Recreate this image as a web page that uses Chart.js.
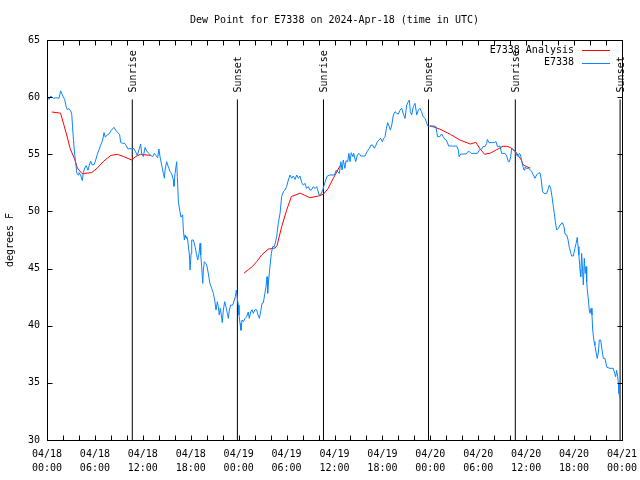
<!DOCTYPE html>
<html><head><meta charset="utf-8">
<script src="https://cdn.jsdelivr.net/npm/chart.js@4.4.1/dist/chart.umd.min.js"></script>
<style>html,body{margin:0;padding:0;background:#fff;}</style>
</head><body>
<canvas id="c" width="640" height="480"></canvas>
<script>
// ---------------- data ----------------
const chartTitle = 'Dew Point for E7338 on 2024-Apr-18 (time in UTC)';
const yAxisTitle = 'degrees F';
const seriesNames = ['E7338 Analysis', 'E7338'];

// x tick labels every 6 hours (hours since 04/18 00:00 UTC)
const tickDates = ['04/18','04/18','04/18','04/18','04/19','04/19','04/19','04/19','04/20','04/20','04/20','04/20','04/21'];
const tickTimes = ['00:00','06:00','12:00','18:00','00:00','06:00','12:00','18:00','00:00','06:00','12:00','18:00','00:00'];

// sunrise / sunset markers
const sunEventHours  = [10.68, 23.84, 34.62, 47.77, 58.64, 71.76];
const sunEventLabels = ['Sunrise','Sunset','Sunrise','Sunset','Sunrise','Sunset'];
const sunLineBottom = 30;
const sunLineTop = 59.8;

// analysis (red), null = gap
const redHours = [0.6,1.7,2.1,2.5,2.9,3.5,3.8,4.4,5.6,6.3,7.1,8.0,8.8,9.6,10.6,11.1,11.7,13.0,
  18,
  24.67,25.2,25.75,26.25,26.9,27.7,28.55,28.8,29.4,30.0,30.6,31.7,32.3,32.9,34.0,34.6,35.2,35.85,36.7,
  42,
  47.96,49.2,50.5,51.7,53.0,53.7,54.2,54.8,55.5,56.3,57.1,57.6,58.0,58.6,59.0,59.4,59.6,60.1,60.5];
const redValues = [58.7,58.6,57.6,56.6,55.5,54.5,53.8,53.3,53.4,53.8,54.4,54.9,55.0,54.8,54.5,54.8,55.0,54.9,
  null,
  44.6,44.9,45.2,45.6,46.2,46.7,46.8,47.0,48.7,50.1,51.3,51.6,51.4,51.2,51.35,51.5,52.0,52.9,54.0,
  null,
  57.5,57.2,56.75,56.25,55.9,56.05,55.5,55.0,55.1,55.4,55.7,55.7,55.6,55.3,54.9,54.5,54.1,53.9,53.8];

// station observations (blue)
const blueHours = [
 0.0,0.25,0.46,0.79,1.21,1.5,1.71,1.92,2.21,2.38,2.55,2.75,2.96,3.1,3.2,3.32,3.45,3.6,3.75,3.9,
 4.0,4.2,4.42,4.55,4.72,4.9,5.13,5.3,5.47,5.68,5.9,6.1,6.3,6.51,6.72,6.97,7.14,7.3,7.55,7.8,
 8.05,8.39,8.64,8.89,9.1,9.22,9.47,9.72,9.93,10.14,10.39,10.64,10.89,11.1,11.31,11.52,11.73,11.85,12.06,12.27,
 12.48,12.73,12.98,13.23,13.44,13.65,13.86,14.02,
 14.15,14.36,14.57,14.7,14.78,14.98,15.2,15.4,15.61,15.82,15.9,16.03,16.24,16.32,16.45,16.65,16.78,16.99,17.07,17.2,
 17.28,17.41,17.49,17.62,17.83,17.91,18.04,18.12,18.33,18.54,18.74,18.87,19.04,19.17,19.25,19.37,19.5,19.58,19.7,19.87,
 20.0,20.2,20.4,20.62,20.83,21.0,21.16,21.33,21.45,21.57,21.7,21.83,21.95,22.08,22.25,22.41,22.58,22.71,22.83,23.0,
 23.25,23.46,23.58,23.71,23.83,23.96,24.04,24.17,24.29,24.42,24.59,24.8,25.0,25.2,25.33,25.5,25.67,25.83,26.04,26.25,
 26.42,26.59,26.75,26.92,27.09,27.25,27.42,27.55,27.63,27.75,27.92,28.09,28.26,28.47,
 28.76,28.96,29.18,29.38,29.6,29.8,30.0,30.22,30.43,30.64,30.85,31.06,31.27,31.47,31.68,31.9,32.1,32.3,32.5,32.72,
 32.93,33.1,33.35,33.56,33.77,33.9,34.07,34.32,34.53,34.7,34.9,35.1,35.4,35.8,36.0,36.2,36.4,36.6,36.8,36.95,
 37.1,37.3,37.44,37.65,37.8,37.94,38.1,38.3,38.4,38.65,38.86,39.07,39.3,39.6,39.82,40.07,40.37,40.57,40.78,40.99,
 41.2,41.36,41.57,41.78,41.99,42.16,42.33,42.5,42.66,42.83,
 43.0,43.17,43.37,43.58,43.8,44.0,44.2,44.42,44.6,44.83,45.04,45.25,45.37,45.5,45.66,45.87,46.08,46.3,46.5,46.7,
 46.9,47.1,47.33,47.5,47.67,47.88,48.1,48.5,48.7,48.9,49.2,49.4,49.6,49.84,50.0,50.3,50.5,50.9,51.3,51.5,
 51.6,51.8,52.1,52.5,52.7,52.9,53.1,53.4,53.9,54.2,54.4,54.6,54.85,55.06,55.14,55.35,55.7,56.0,56.23,56.4,
 56.72,56.93,57.35,57.56,57.77,57.9,58.06,58.19,58.4,58.6,58.8,59.0,59.15,59.3,59.45,59.6,59.73,59.85,60.06,60.27,
 60.48,60.7,60.9,61.1,61.3,61.5,61.73,61.86,62.06,62.24,62.57,62.78,62.9,63.07,63.24,63.4,63.53,63.65,63.82,64.03,
 64.25,64.53,64.74,64.87,65.08,65.25,65.38,65.6,65.7,65.9,66.1,66.25,66.4,66.5,66.6,66.75,66.83,66.95,67.07,67.16,
 67.28,67.4,67.5,67.58,67.66,67.79,67.9,68.0,68.12,68.24,68.33,68.5,68.6,68.75,68.9,69.04,69.16,69.33,69.5,69.66,
 69.87,70.1,70.5,70.9,71.08,71.2,71.33,71.46,71.54,71.62,71.75];
const blueValues = [
 60.0,59.8,60.1,59.9,59.95,59.9,60.55,60.2,59.8,59.2,58.9,59.0,58.8,58.5,57.4,56.2,55.1,54.2,53.3,53.2,
 53.4,53.2,52.7,53.4,53.8,54.0,53.6,54.06,54.4,54.06,54.1,54.5,55.0,55.4,55.8,56.25,56.9,56.5,56.7,56.8,
 57.1,57.36,57.06,56.9,56.7,56.04,55.96,55.96,55.75,55.46,55.5,55.46,55.5,55.2,54.9,55.4,55.9,55.08,54.8,55.6,
 55.3,55.08,54.9,54.8,55.08,54.9,54.7,55.46,
 54.79,54.06,53.33,52.9,53.6,54.35,53.9,53.5,53.3,52.75,52.2,53.3,54.35,53.04,50.85,49.98,49.5,49.7,48.37,47.5,
 47.94,47.65,47.8,47.5,46.19,44.87,46.33,47.5,47.5,46.92,46.19,45.75,46.33,47.21,46.19,45.17,43.7,44.87,45.6,45.46,
 45.31,44.58,43.7,43.27,42.83,42.25,41.37,42.1,41.66,40.94,41.52,40.94,40.27,41.37,42.1,41.66,41.08,40.64,41.37,41.8,
 41.8,42.25,42.54,43.12,42.4,41.8,40.94,40.2,39.6,40.5,40.35,40.64,40.79,41.2,40.64,41.2,41.4,41.08,41.4,41.4,
 40.94,40.64,41.2,41.96,42.0,42.7,43.4,44.29,42.83,44.0,45.17,46.33,46.92,46.92,
 47.79,48.96,49.83,51.29,51.73,51.87,52.17,52.75,53.19,52.9,53.1,52.8,53.19,52.9,53.1,52.51,52.3,52.46,52.02,52.17,
 51.87,51.87,52.17,52.0,52.17,51.87,51.44,51.52,51.87,52.3,52.75,53.1,53.19,53.19,53.19,53.6,53.5,53.33,54.35,53.62,
 54.5,53.77,54.44,54.35,55.08,54.35,55.14,54.79,55.08,54.35,54.94,55.08,54.85,54.85,54.85,55.23,55.52,55.81,55.81,55.52,
 55.81,56.1,56.25,56.4,56.1,56.4,56.54,57.27,57.77,57.47,
 57.12,57.56,58.44,58.73,58.58,58.52,58.87,59.02,58.58,58.14,59.31,59.6,59.75,58.73,58.44,59.17,59.46,58.44,58.87,59.02,
 58.73,58.29,58.14,57.85,57.47,57.47,57.47,57.47,57.42,56.54,56.54,56.77,56.54,56.3,56.25,55.72,55.72,55.72,55.72,55.37,
 54.79,55.02,55.02,55.02,55.23,55.23,55.08,55.08,55.08,55.43,55.43,55.67,55.67,55.96,56.3,56.02,56.02,56.02,56.1,55.67,
 55.72,55.08,55.08,54.85,54.35,54.35,54.79,55.52,55.37,55.23,54.94,54.79,55.08,54.94,54.35,53.92,53.62,53.86,53.77,53.77,
 53.68,53.48,53.19,52.9,53.19,53.33,53.39,52.9,51.73,51.58,51.58,52.02,52.31,52.02,51.29,50.42,49.83,49.1,48.37,48.52,
 48.81,49.02,48.66,48.02,47.94,47.5,46.92,46.33,46.1,46.1,46.77,47.2,47.73,46.92,46.19,44.87,44.29,46.33,44.73,43.56,
 45.9,44.58,45.17,43.85,43.12,42.25,41.37,41.08,41.52,40.94,39.62,38.6,38.3,37.7,37.14,37.7,38.75,38.75,37.87,37.14,
 37.14,36.36,36.27,36.27,35.83,35.54,36.1,35.54,34.96,34.08,33.7];

// ---------------- chart ----------------
const FONT = "'DejaVu Sans Mono', 'Liberation Mono', monospace";
Chart.defaults.font.family = FONT;
Chart.defaults.font.size = 10;
Chart.defaults.color = '#000';

const RED = '#ff0000';
const BLUE = '#0a84ff';

const datasets = [
  { label: seriesNames[0], data: redHours.map((h,i)=>({x:h, y:redValues[i]})),
    borderColor: RED, borderWidth: 1, pointRadius: 0, tension: 0, spanGaps: false, order: 1 },
  { label: seriesNames[1], data: blueHours.map((h,i)=>({x:h, y:blueValues[i]})),
    borderColor: BLUE, borderWidth: 1, pointRadius: 0, tension: 0, order: 0 }
];
sunEventHours.forEach((h, i) => {
  datasets.push({ label: sunEventLabels[i], data: [{x:h, y:sunLineBottom}, {x:h, y:sunLineTop}],
    borderColor: '#000', borderWidth: 1, pointRadius: 0, order: 2 });
});

const gnuplotDecor = {
  id: 'gnuplotDecor',
  afterDatasetsDraw(chart) {
    const {ctx, chartArea: a, scales: {x, y}} = chart;
    ctx.save();
    ctx.strokeStyle = '#000';
    ctx.lineWidth = 1;
    const L = Math.round(a.left) + 0.5, R = Math.round(a.right) + 0.5;
    const T = Math.round(a.top) + 0.5, B = Math.round(a.bottom) + 0.5;
    ctx.beginPath();
    // inward ticks
    x.ticks.forEach(t => {
      const px = Math.round(x.getPixelForValue(t.value)) + 0.5;
      ctx.moveTo(px, B); ctx.lineTo(px, B - 5);
      ctx.moveTo(px, T); ctx.lineTo(px, T + 5);
    });
    y.ticks.forEach(t => {
      const py = Math.round(y.getPixelForValue(t.value)) + 0.5;
      ctx.moveTo(L, py); ctx.lineTo(L + 5, py);
      ctx.moveTo(R, py); ctx.lineTo(R - 5, py);
    });
    ctx.stroke();
    ctx.strokeRect(L, T, R - L, B - T);

    // sunrise / sunset labels
    ctx.fillStyle = '#000';
    ctx.font = '10px ' + FONT;
    ctx.textAlign = 'left';
    ctx.textBaseline = 'middle';
    sunEventHours.forEach((h, i) => {
      const px = x.getPixelForValue(h) + 1;
      const py = y.getPixelForValue(sunLineTop) - 7;
      ctx.save();
      ctx.translate(px, py);
      ctx.rotate(-Math.PI / 2);
      ctx.fillText(sunEventLabels[i], 0, 0);
      ctx.restore();
    });

    // key (inside, top right)
    ctx.textAlign = 'right';
    [0, 1].forEach(i => {
      const ds = chart.data.datasets[i];
      const ky = a.top + 10 + i * 12.5;
      ctx.fillText(ds.label, a.right - 48, ky);
      ctx.strokeStyle = ds.borderColor;
      ctx.beginPath();
      ctx.moveTo(a.right - 40, Math.round(ky) + 0.5);
      ctx.lineTo(a.right - 12, Math.round(ky) + 0.5);
      ctx.stroke();
    });
    ctx.restore();
  }
};

new Chart(document.getElementById('c'), {
  type: 'line',
  data: { datasets },
  options: {
    responsive: false,
    animation: false,
    devicePixelRatio: 1,
    events: [],
    layout: { padding: { left: 0, right: 18, top: 0, bottom: 0 } },
    plugins: {
      legend: { display: false },
      tooltip: { enabled: false },
      title: {
        display: true, text: chartTitle, fullSize: false,
        font: { size: 10, weight: 'normal', family: FONT },
        padding: { top: 14, bottom: 14 }
      }
    },
    scales: {
      x: {
        type: 'linear', min: 0, max: 72,
        grid: { display: false, drawTicks: false },
        border: { display: false },
        afterFit(s) { s.height = 40; s.paddingLeft = 0; s.paddingRight = 0; },
        ticks: {
          stepSize: 2, autoSkip: false, maxRotation: 0, minRotation: 0, maxTicksLimit: 100,
          padding: 7,
          font: { size: 10, lineHeight: 1.4, family: FONT },
          callback(v) {
            if (v % 6 !== 0) return '';
            const k = v / 6;
            return [tickDates[k], tickTimes[k]];
          }
        }
      },
      y: {
        min: 30, max: 65,
        grid: { display: false, drawTicks: false },
        border: { display: false },
        afterFit(s) { s.width = 47; s.paddingTop = 0; s.paddingBottom = 0; },
        title: { display: true, text: yAxisTitle, font: { size: 10, family: FONT }, padding: { top: 4, bottom: 0 } },
        ticks: { stepSize: 5, padding: 7, font: { size: 10, family: FONT } }
      }
    }
  },
  plugins: [gnuplotDecor]
});
</script>
</body></html>
